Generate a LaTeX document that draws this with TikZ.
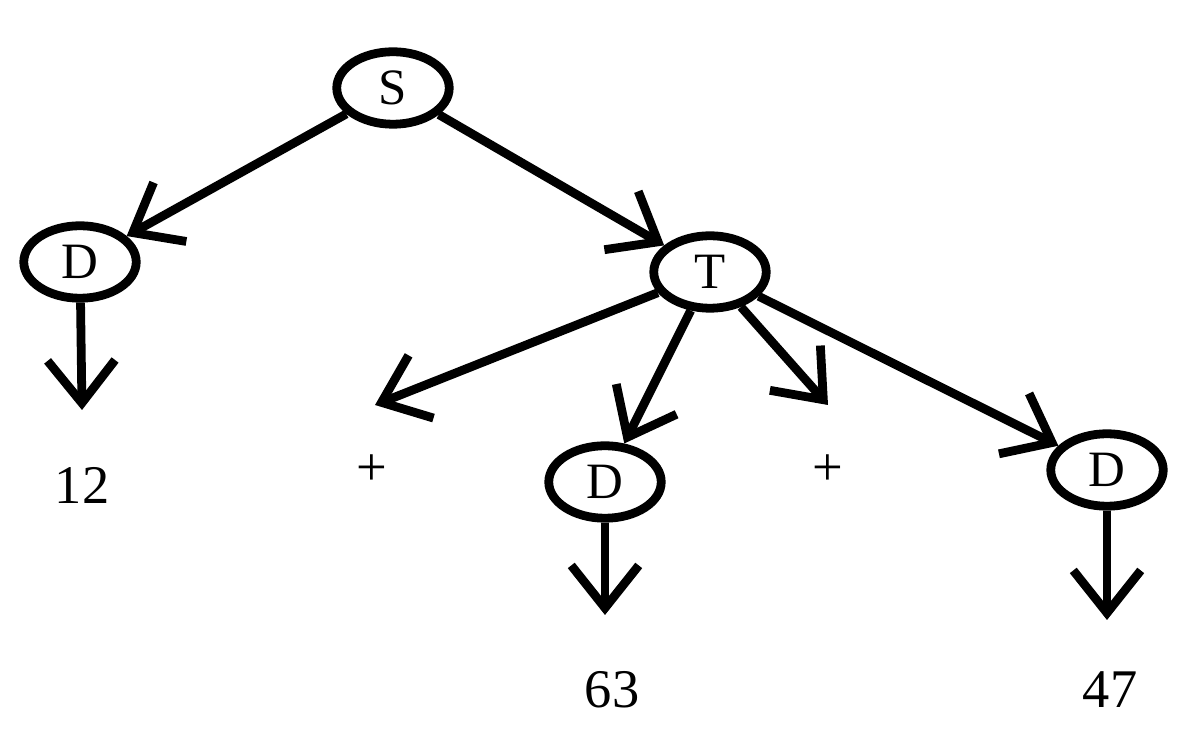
\documentclass[tikz,border=0pt]{standalone}
\usepackage{fontspec}
\setmainfont{Liberation Serif}
\usetikzlibrary{shapes.geometric,arrows.meta}
\begin{document}
\begin{tikzpicture}[x=0.02cm,y=-0.02cm,
  nd/.style={ellipse,draw,line width=5pt,inner sep=0pt,minimum width=2.25cm,minimum height=1.45cm,font=\fontsize{29}{29}\selectfont},
  lbl/.style={font=\fontsize{31}{31}\selectfont,inner sep=0pt},
  ar/.style={line width=5pt,-{Straight Barb[length=0.85cm,width=1.35cm,line width=5pt]}}]
\useasboundingbox (0,0) rectangle (1200,742);
\node[nd] (S) at (393,88) {S};
\node[nd] (D1) at (80,262) {D};
\node[nd] (T) at (710,272) {T};
\node[nd] (D2) at (605,482) {D};
\node[nd] (D3) at (1107,470) {D};
\node[lbl] (n12) at (82,485) {12};
\node[lbl] (p1) at (372,470) {+};
\node[lbl] (p2) at (828,470) {+};
\node[lbl] (n63) at (612,690) {63};
\node[lbl] (n47) at (1110,690) {47};
\coordinate (e1) at (82,410);
\coordinate (e2) at (375,405);
\coordinate (e3) at (828,405);
\coordinate (e4) at (605,615);
\coordinate (e5) at (1107,620);
\draw[ar] (S) -- (D1);
\draw[ar] (S) -- (T);
\draw[ar] (D1) -- (e1);
\draw[ar] (T) -- (e2);
\draw[ar] (T) -- (D2);
\draw[ar] (T) -- (e3);
\draw[ar] (T) -- (D3);
\draw[ar] (D2) -- (e4);
\draw[ar] (D3) -- (e5);
\end{tikzpicture}
\end{document}
